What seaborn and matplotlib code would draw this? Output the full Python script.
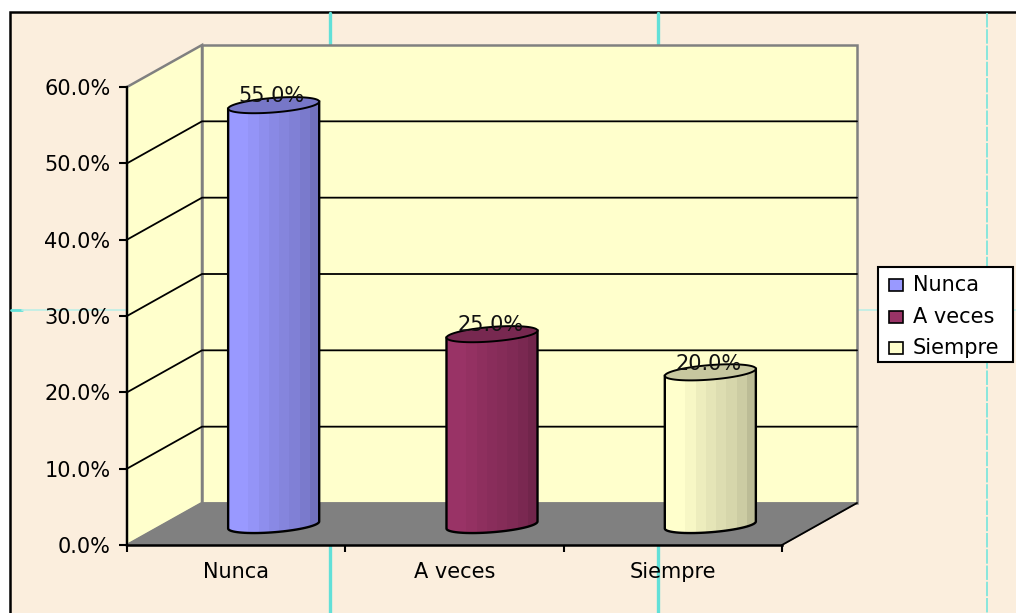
import numpy as np
import pandas as pd
import matplotlib
matplotlib.use("Agg")
import matplotlib.pyplot as plt
from matplotlib.patches import Rectangle, Polygon
import seaborn as sns

categories = ["Nunca", "A veces", "Siempre"]
values = [55.0, 25.0, 20.0]
bar_colors = ["#9999FF", "#993366", "#FFFFCC"]
y_ticks = [0, 10, 20, 30, 40, 50, 60]

W, H = 1016, 613
# chart geometry in pixels
X0, X1 = 127, 782
Y0, Y1 = 545, 87
DX, DY = 75, 42  # depth of the box
FS = 15

sns.set_theme(style="white")
plt.rcParams["font.family"] = ["DejaVu Sans"]

fig = plt.figure(figsize=(W / 100, H / 100), dpi=100, facecolor="white")


def px_axes(x0, x1, ybottom, ytop, z):
    return fig.add_axes([x0 / W, 1 - ybottom / H, (x1 - x0) / W, (ybottom - ytop) / H], zorder=z)


# whole picture overlay in pixel coordinates, for background and the box
bg = fig.add_axes([0, 0, 1, 1], zorder=0)
bg.set_xlim(0, W)
bg.set_ylim(H, 0)
bg.axis("off")
bg.add_patch(Rectangle((10, 12), W + 20, H + 20, fc="#FBEEDD", ec="black", lw=1.8, zorder=1))
# faint cyan lines of the backdrop
for lx in [330, 658]:
    bg.plot([lx, lx], [13, H], color="#62E0D8", lw=2.4, zorder=2)
bg.plot([987, 987], [13, H], color="#7FE6DC", lw=1.3, ls=(0, (8, 1)), zorder=2)
bg.plot([11, 22], [310, 310], color="#62E0D8", lw=2, zorder=2)
bg.plot([22, 127], [310, 310], color="#BDEFE6", lw=1.2, zorder=2)
bg.plot([858, W], [310, 310], color="#BDEFE6", lw=1.2, zorder=2)

# walls and floor
bg.add_patch(Polygon([(X0, Y1), (X0 + DX, Y1 - DY), (X0 + DX, Y0 - DY), (X0, Y0)],
                     fc="#FFFFCC", ec="#808080", lw=1.8, zorder=3))
bg.add_patch(Rectangle((X0 + DX, Y1 - DY), X1 - X0, Y0 - Y1, fc="#FFFFCC", ec="#808080", lw=1.8, zorder=3))
bg.add_patch(Polygon([(X0, Y0), (X1, Y0), (X1 + DX, Y0 - DY), (X0 + DX, Y0 - DY)],
                     fc="#808080", ec="#808080", lw=1, zorder=3))
bg.plot([X1, X1 + DX], [Y0, Y0 - DY], color="black", lw=1.3, zorder=4)

# front plane: carries the axes and tick labels
front = px_axes(X0, X1, Y0, Y1, 2)
front.patch.set_alpha(0)
front.set_ylim(0, 60)
front.set_xlim(0, 3)
front.set_yticks(y_ticks)
front.set_yticklabels([f"{t:.1f}%" for t in y_ticks], fontsize=FS, color="black")
front.set_xticks([0, 1, 2, 3])
front.set_xticklabels([])
front.set_xticks([0.5, 1.5, 2.5], minor=True)
front.set_xticklabels(categories, minor=True, fontsize=FS, color="black")
front.tick_params(axis="x", which="major", length=5, width=1.5, color="black", direction="out", bottom=True)
front.tick_params(axis="x", which="minor", length=0, pad=12)
front.tick_params(axis="y", length=6, width=1.5, color="black", direction="out", left=True, pad=6)
sns.despine(ax=front, top=True, right=True)
front.spines["left"].set_linewidth(1.6)
front.spines["left"].set_color("black")
front.spines["bottom"].set_linewidth(1.8)
front.spines["bottom"].set_color("black")

# gridlines: side wall diagonal, then back wall
for t in y_ticks[1:-1]:
    yy = Y0 - (Y0 - Y1) * t / 60
    bg.plot([X0, X0 + DX, X1 + DX], [yy, yy - DY, yy - DY], color="black", lw=1.3, zorder=4)

# bars sit half way into the box, axes run a little below zero for the round base
BX, BY = 37.5, 20
Y_LOW = -5
PX_PER_UNIT = (Y0 - Y1) / 60
bars_ax = px_axes(X0 + BX, X1 + BX, Y0 - BY - Y_LOW * PX_PER_UNIT, Y1 - BY, 3)
bars_ax.patch.set_alpha(0)
df = pd.DataFrame({"cat": categories, "val": values})
sns.barplot(data=df, x="cat", y="val", hue="cat", palette=bar_colors, width=0.417,
            legend=False, ax=bars_ax, saturation=1, edgecolor="none")
bars_ax.axis("off")

shade = np.array([1.0, 1.0, 0.97, 0.93, 0.9, 0.87, 0.84, 0.8, 0.74])
cap_h = 0.95  # half height of the tilted ellipse, in axis units
tilt = 0.46   # right end sits higher than the left end
angles = np.linspace(0, 2 * np.pi, 80)
lower = np.linspace(np.pi, 2 * np.pi, 40)
for bar, col, val in zip(bars_ax.patches, bar_colors, values):
    x, w = bar.get_x(), bar.get_width()
    cx = x + w / 2
    rgb = np.array(matplotlib.colors.to_rgb(col))
    grad = (shade[:, None] * rgb)[None, :, :]
    bar.set_facecolor("none")
    base = [(cx + w / 2 * np.cos(a), cap_h * np.sin(a) + tilt * np.cos(a)) for a in lower]
    body = Polygon([(x, val - tilt)] + base + [(x + w, val + tilt)], closed=True,
                   transform=bars_ax.transData, fc="none", ec="black", lw=1.7, zorder=3)
    bars_ax.add_patch(body)
    im = bars_ax.imshow(grad, extent=(x, x + w, -3, val + 1), aspect="auto", zorder=2, interpolation="nearest")
    im.set_clip_path(body)
    cap = [(cx + w / 2 * np.cos(a), val + cap_h * np.sin(a) + tilt * np.cos(a)) for a in angles]
    bars_ax.add_patch(Polygon(cap, closed=True, fc=rgb * 0.78, ec="black", lw=1.4, zorder=4))
    bars_ax.text(cx - 0.008, val + 1.15, f"{val:.1f}%", ha="center", va="center", fontsize=FS,
                 color="#111111", zorder=5, clip_on=False)
bars_ax.set_xlim(-0.5, 2.5)
bars_ax.set_ylim(Y_LOW, 60)

# legend box
leg = fig.add_axes([0, 0, 1, 1], zorder=4)
leg.set_xlim(0, W)
leg.set_ylim(H, 0)
leg.axis("off")
leg.add_patch(Rectangle((878, 267), 135, 95, fc="white", ec="black", lw=1.5))
for name, col, ly in zip(categories, bar_colors, [285, 317, 348]):
    leg.add_patch(Rectangle((889, ly - 6), 14, 12, fc=col, ec="black", lw=1.2))
    leg.text(913, ly, name, fontsize=FS, va="center", ha="left", color="black")

fig.savefig("out.png", dpi=100)
